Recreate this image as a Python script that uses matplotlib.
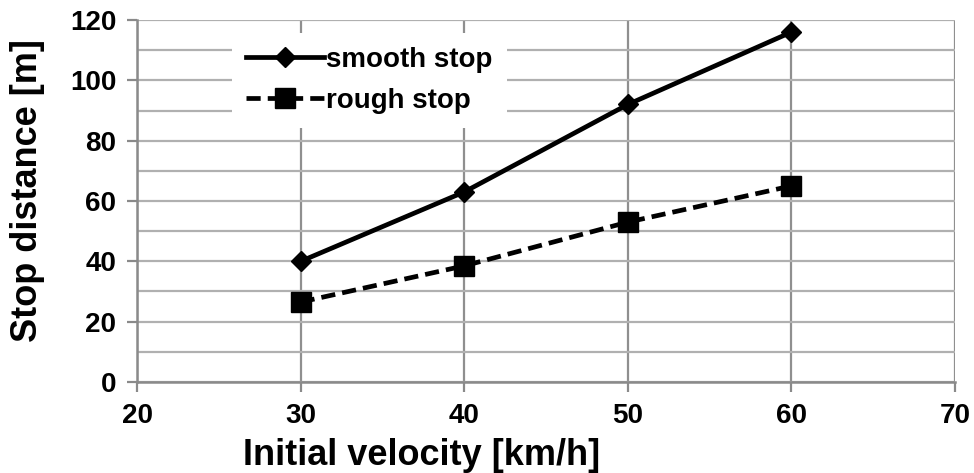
import matplotlib
matplotlib.use("Agg")
import matplotlib.pyplot as plt
from matplotlib.ticker import MultipleLocator

velocity = [30, 40, 50, 60]
smooth_stop = [40, 63, 92, 116]
rough_stop = [26.5, 38.5, 53, 65]
x_ticks = [20, 30, 40, 50, 60, 70]
y_ticks = [0, 20, 40, 60, 80, 100, 120]

plt.rcParams['font.family'] = ['Liberation Sans', 'DejaVu Sans']
plt.rcParams['font.weight'] = 'bold'

fig = plt.figure(figsize=(9.74, 4.73), dpi=100)
ax = fig.add_axes([0.1407, 0.1924, 0.8398, 0.7653])

ax.plot(velocity, smooth_stop, color='black', lw=3.4, marker='D', ms=10,
        label='smooth stop', zorder=3)
ax.plot(velocity, rough_stop, color='black', lw=3.4, ls=(0, (3, 1.5)), marker='s', ms=14,
        label='rough stop', zorder=3)

ax.set_xlim(20, 70)
ax.set_ylim(0, 120)
ax.set_xticks(x_ticks)
ax.set_yticks(y_ticks)
ax.yaxis.set_minor_locator(MultipleLocator(10))
ax.grid(True, which='major', axis='x', color='#8f8f8f', lw=1.6)
ax.grid(True, which='both', axis='y', color='#b0b0b0', lw=1.6)
ax.set_axisbelow(True)

for s in ['top', 'right']:
    ax.spines[s].set_visible(False)
for s in ['left', 'bottom']:
    ax.spines[s].set_color('#8a8a8a')
    ax.spines[s].set_linewidth(1.8)
ax.tick_params(axis='both', which='major', length=7, width=1.6, color='#8a8a8a',
               labelsize=20)
ax.tick_params(axis='y', which='major', pad=8)
ax.tick_params(axis='x', which='major', pad=8)
ax.tick_params(axis='y', which='minor', length=0)
for lab in ax.get_xticklabels() + ax.get_yticklabels():
    lab.set_fontweight('bold')

ax.set_xlabel('Initial velocity [km/h]', fontsize=26, fontweight='bold')
ax.xaxis.set_label_coords(0.348, -0.155)
ax.set_ylabel('Stop distance [m]', fontsize=26, fontweight='bold')
ax.yaxis.set_label_coords(-0.113, 0.53)

leg = ax.legend(loc='upper left', bbox_to_anchor=(0.116, 0.965), frameon=True,
                fontsize=20, handlelength=2.8, handletextpad=0.1, borderpad=0.5,
                labelspacing=0.55, borderaxespad=0, fancybox=False)
leg.get_frame().set_facecolor('white')
leg.get_frame().set_edgecolor('none')
leg.get_frame().set_alpha(1)
for t in leg.get_texts():
    t.set_fontweight('bold')

fig.savefig('out.png', dpi=100)
